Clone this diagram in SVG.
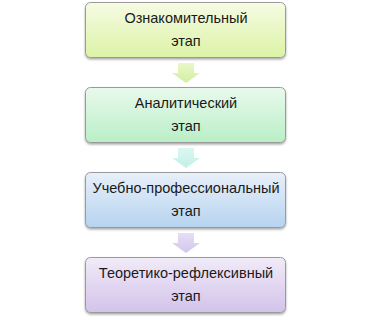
<svg xmlns="http://www.w3.org/2000/svg" width="373" height="319" viewBox="0 0 373 319">
<defs>
<linearGradient id="g1" x1="0" y1="0" x2="0" y2="1"><stop offset="0" stop-color="#f6fbe3"/><stop offset="1" stop-color="#dcf3a6"/></linearGradient>
<linearGradient id="g2" x1="0" y1="0" x2="0" y2="1"><stop offset="0" stop-color="#e9f9ec"/><stop offset="1" stop-color="#b9efc6"/></linearGradient>
<linearGradient id="g3" x1="0" y1="0" x2="0" y2="1"><stop offset="0" stop-color="#e8f0fa"/><stop offset="1" stop-color="#b6d3ef"/></linearGradient>
<linearGradient id="g4" x1="0" y1="0" x2="0" y2="1"><stop offset="0" stop-color="#f1ebf8"/><stop offset="1" stop-color="#d3c3ea"/></linearGradient>
<linearGradient id="a1" x1="0" y1="0" x2="0" y2="1"><stop offset="0" stop-color="#eaf7c8"/><stop offset="1" stop-color="#d2efa0"/></linearGradient>
<linearGradient id="a2" x1="0" y1="0" x2="0" y2="1"><stop offset="0" stop-color="#dcf7f2"/><stop offset="1" stop-color="#c2f0e6"/></linearGradient>
<linearGradient id="a3" x1="0" y1="0" x2="0" y2="1"><stop offset="0" stop-color="#e6def5"/><stop offset="1" stop-color="#d3c6ee"/></linearGradient>
<filter id="sh" x="-10%" y="-10%" width="120%" height="130%"><feDropShadow dx="0" dy="1.5" stdDeviation="1.2" flood-color="#000" flood-opacity="0.35"/></filter>
</defs>
<style>
.box{stroke:#9a9a9a;stroke-width:1;filter:url(#sh)}
.t{font-family:"Liberation Sans",Arial,sans-serif;font-size:14.5px;fill:#1a1a1a;text-anchor:middle}
.arr{stroke:none}
</style>
<rect width="373" height="319" fill="#ffffff"/>
<g id="connectors">
<path class="arr" fill="url(#a1)" d="M178,63 H194 V73 H200 L186,83 L172,73 H178 Z"/>
<path class="arr" fill="url(#a2)" d="M178,148 H194 V158 H200 L186,168 L172,158 H178 Z"/>
<path class="arr" fill="url(#a3)" d="M178,233 H194 V243 H200 L186,253 L172,243 H178 Z"/>
</g>
<g id="n1"><rect class="box" x="85.5" y="2.5" width="200" height="55" rx="5" fill="url(#g1)"/><text class="t" x="186" y="23">Ознакомительный</text><text class="t" x="186" y="46">этап</text></g>
<g id="n2"><rect class="box" x="85.5" y="87.5" width="200" height="55" rx="5" fill="url(#g2)"/><text class="t" x="186" y="108">Аналитический</text><text class="t" x="186" y="131">этап</text></g>
<g id="n3"><rect class="box" x="85.5" y="172.5" width="200" height="55" rx="5" fill="url(#g3)"/><text class="t" x="186" y="193">Учебно-профессиональный</text><text class="t" x="186" y="216">этап</text></g>
<g id="n4"><rect class="box" x="85.5" y="257.5" width="200" height="55" rx="5" fill="url(#g4)"/><text class="t" x="186" y="278">Теоретико-рефлексивный</text><text class="t" x="186" y="301">этап</text></g>
</svg>
